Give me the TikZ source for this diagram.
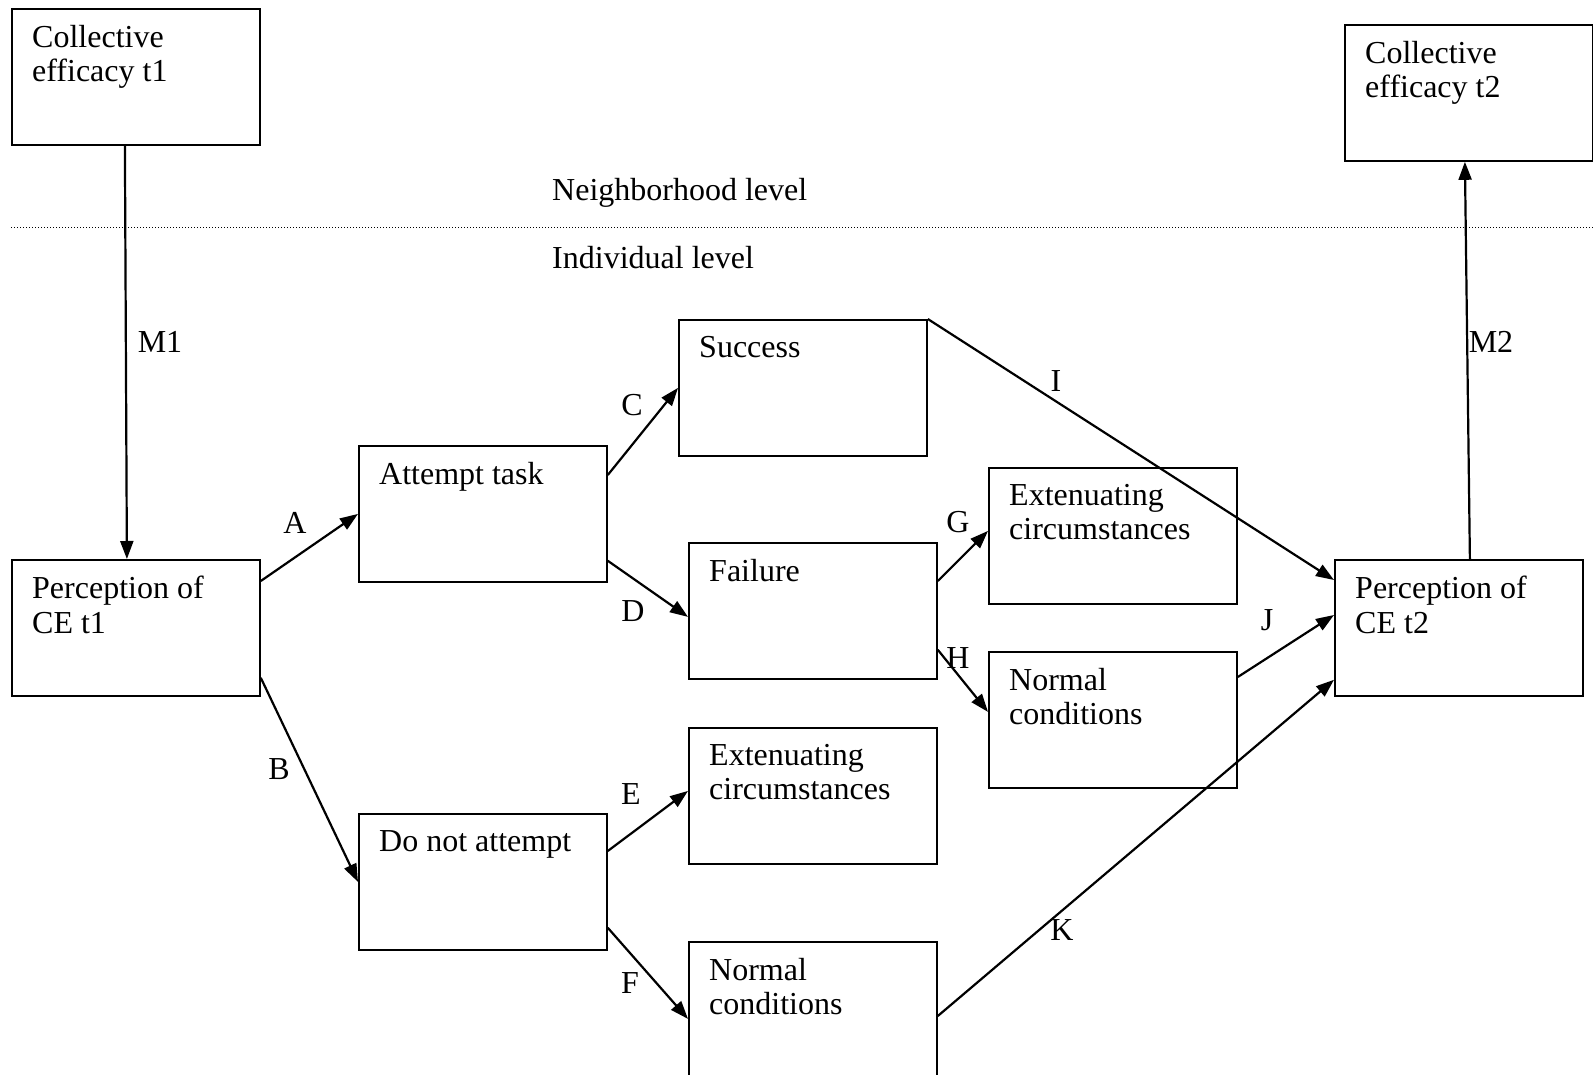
\documentclass[tikz,border=0pt]{standalone}
\usepackage{fontspec}
\setmainfont{Liberation Serif}
\usetikzlibrary{arrows.meta}

\begin{document}
\begin{tikzpicture}[x=1pt,y=-1pt,
    >={Triangle[length=18pt,width=13pt]},
    box/.style={draw,line width=1.8pt,minimum width=248pt,minimum height=136pt,
      anchor=north west,inner sep=0pt,label={[boxtxt]north west:#1}},
    boxtxt/.style={anchor=north west,align=left,inner sep=0pt,xshift=21pt,yshift=-17pt,
      font=\fontsize{32}{34.5}\selectfont},
    lab/.style={inner sep=0pt,font=\fontsize{32}{34.5}\selectfont},
    arr/.style={->,line width=2.2pt}]
  \useasboundingbox (0,0) rectangle (1593,1075);
  \clip (0,0) rectangle (1593,1075);

  % neighborhood level
  \node[box={Collective\\efficacy t1}] (cet1) at (11,8) {};
  \node[box={Collective\\efficacy t2}] (cet2) at (1344,24) {};
  \draw[line width=1pt,dash pattern=on 1pt off 2pt] (11,228) -- (1593,228);
  \node[lab,anchor=base west] (nbh) at (552,201) {Neighborhood level};
  \node[lab,anchor=base west] (ind) at (552,269) {Individual level};

  % individual level
  \node[box={Perception of\\CE t1}] (pce1) at (11,559) {};
  \node[box={Attempt task}] (try) at (358,445) {};
  \node[box={Do not attempt}] (notry) at (358,813) {};
  \node[box={Success}] (succ) at (678,319) {};
  \node[box={Failure}] (fail) at (688,542) {};
  \node[box={Extenuating\\circumstances}] (extn) at (688,727) {};
  \node[box={Normal\\conditions}] (normn) at (688,941) {};
  \node[box={Extenuating\\circumstances}] (extf) at (988,467) {};
  \node[box={Normal\\conditions}] (normf) at (988,651) {};
  \node[box={Perception of\\CE t2}] (pce2) at (1334,559) {};

  % paths
  \draw[arr] ([xshift=-11pt]cet1.south) -- ([xshift=-9pt]pce1.north);
  \draw[arr] ([xshift=11pt]pce2.north) -- ([xshift=-4pt]cet2.south);
  \draw[arr] ([yshift=-22pt]pce1.north east) -- (try.west);
  \draw[arr] ([yshift=19pt]pce1.south east) -- (notry.west);
  \draw[arr] ([yshift=-30pt]try.north east) -- (succ.west);
  \draw[arr] ([yshift=22pt]try.south east) -- ([yshift=-6pt]fail.west);
  \draw[arr] ([yshift=-38pt]notry.north east) -- ([yshift=5pt]extn.west);
  \draw[arr] ([yshift=23pt]notry.south east) -- ([yshift=-9pt]normn.west);
  \draw[arr] ([yshift=-39pt]fail.north east) -- ([yshift=5pt]extf.west);
  \draw[arr] ([yshift=30pt]fail.south east) -- ([yshift=8pt]normf.west);
  \draw[arr] (succ.north east) -- ([yshift=-21pt]pce2.north west);
  \draw[arr] ([yshift=-26pt]normf.north east) -- ([yshift=-56pt]pce2.north west);
  \draw[arr] ([yshift=-75pt]normn.north east) -- ([yshift=17pt]pce2.south west);

  % path labels
  \node[lab] (lM1) at (160,342) {M1};
  \node[lab] (lM2) at (1491,342) {M2};
  \node[lab] (lA) at (295,523) {A};
  \node[lab] (lB) at (279,769) {B};
  \node[lab] (lC) at (632,405) {C};
  \node[lab] (lD) at (633,611) {D};
  \node[lab] (lE) at (631,794) {E};
  \node[lab] (lF) at (630,983) {F};
  \node[lab] (lG) at (958,522) {G};
  \node[lab] (lH) at (958,658) {H};
  \node[lab] (lI) at (1056,381) {I};
  \node[lab] (lJ) at (1267,620) {J};
  \node[lab] (lK) at (1062,930) {K};
\end{tikzpicture}
\end{document}
